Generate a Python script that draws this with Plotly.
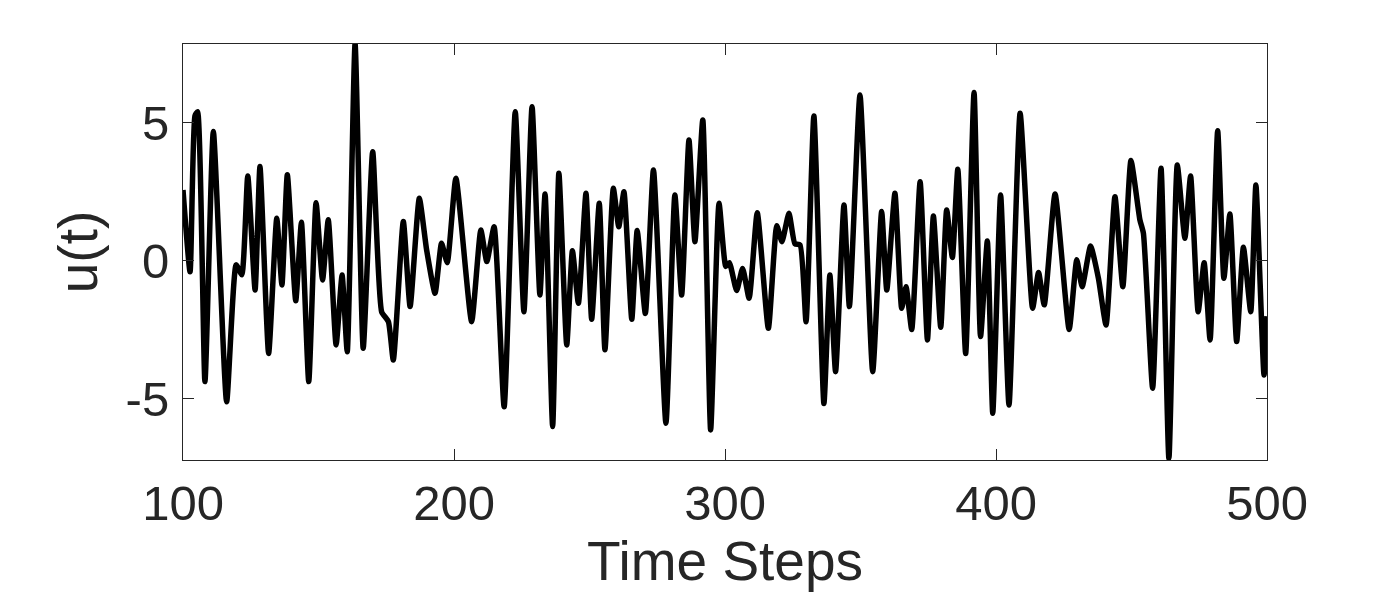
import plotly.graph_objects as go

# vertices of the signal (time step, u)
t = [100, 102.6, 104.4, 105.4, 108.1, 111.2, 116.1, 119.6, 121.7, 123.9, 126.6,
     128.4, 131.6, 134.6, 136.5, 138.5, 141.6, 143.7, 146.4, 149.1, 151.5,
     153.6, 156.5, 158.7, 160.6, 163.5, 166.5, 170.0, 173.3, 175.8, 177.6,
     181.3, 183.8, 187.2, 189.9, 193.0, 195.4, 197.5, 200.7, 206.5, 209.9,
     212.1, 214.8, 218.5, 222.6, 225.8, 228.8, 231.7, 233.6, 236.4, 238.7,
     241.6, 243.7, 245.9, 248.7, 250.8, 253.6, 255.7, 258.8, 260.8, 262.7,
     265.6, 267.6, 270.6, 273.6, 278.2, 281.5, 284.0, 286.7, 288.9, 291.8,
     294.7, 297.8, 300.3, 301.6, 304.3, 306.5, 308.9, 311.9, 316.0, 319.1,
     321.0, 323.6, 325.8, 327.7, 329.9, 332.8, 336.5, 338.7, 340.8, 343.9,
     345.9, 349.8, 354.5, 357.8, 359.7, 362.7, 365.2, 366.8, 368.9, 372.0,
     374.7, 376.9, 379.6, 381.8, 383.9, 385.9, 388.8, 391.9, 394.3, 396.8,
     398.8, 401.7, 404.8, 408.9, 413.5, 415.7, 417.8, 421.8, 427.0, 429.8,
     431.8, 434.9, 437.8, 440.6, 443.9, 446.8, 449.8, 453.1, 454.4, 457.8,
     460.9, 463.8, 466.9, 469.7, 471.8, 474.6, 476.8, 479.0, 481.8, 484.1,
     486.3, 488.8, 491.3, 494.0, 495.9, 498.9, 500]
u = [2.57, -0.39, 5.25, 5.41, -4.37, 4.69, -5.10, -0.14, -0.50, 3.08, -1.05,
     3.42, -3.35, 1.55, -0.87, 3.12, -1.44, 1.40, -4.37, 2.11, -0.69,
     1.49, -3.04, -0.51, -3.29, 7.86, -3.16, 3.96, -1.84, -2.20, -3.59,
     1.43, -1.65, 2.27, 0.40, -1.17, 0.64, -0.06, 3.00, -2.20, 1.12,
     -0.02, 1.24, -5.28, 5.41, -1.84, 5.59, -1.23, 2.43, -6.00, 3.18,
     -3.04, 0.37, -1.53, 2.45, -2.11, 2.09, -3.22, 2.63, 1.24, 2.51,
     -2.11, 1.10, -1.90, 3.30, -5.88, 2.39, -1.23, 4.38, 0.70, 5.11,
     -6.12, 2.09, -0.20, -0.06, -1.07, -0.27, -1.35, 1.75, -2.44, 1.28,
     0.70, 1.73, 0.62, 0.58, -2.20, 5.25, -5.16, -0.51, -4.01, 2.03,
     -1.65, 6.01, -4.01, 1.79, -1.05, 2.45, -1.71, -0.93, -2.48, 2.87,
     -2.86, 1.63, -2.40, 1.85, 0.13, 3.32, -3.35, 6.10, -2.74, 0.72,
     -5.52, 2.39, -5.22, 5.35, -1.71, -0.42, -1.59, 2.43, -2.48, 0.04,
     -0.93, 0.54, -0.63, -2.32, 2.33, -0.93, 3.64, 1.49, 1.00, -4.61,
     3.36, -7.15, 3.48, 0.82, 3.08, -1.84, -0.06, -2.86, 4.72, -0.63,
     1.70, -2.92, 0.50, -1.84, 2.75, -4.13, -2.00]

x_ticks = [100, 200, 300, 400, 500]
y_ticks = [-5, 0, 5]
y_labels = ["-5", "0", "5"]

axcol = "#262626"
font = "Liberation Sans, Arial, Helvetica, sans-serif"

fig = go.Figure()
fig.add_trace(go.Scatter(x=t, y=u, mode="lines",
                         line=dict(color="black", width=5.5, shape="spline", smoothing=0.5)))

# page body adds an 8px offset, so margins are trimmed by that much
fig.update_layout(
    width=1400, height=600,
    margin=dict(l=175, r=141, t=36, b=148),
    paper_bgcolor="white", plot_bgcolor="white",
    showlegend=False,
    font=dict(family=font, color=axcol),
    xaxis=dict(range=[100, 500], tickvals=x_ticks, ticks="inside", ticklen=11,
               tickcolor=axcol, showline=True, linecolor=axcol, linewidth=1,
               mirror="ticks", showgrid=False, zeroline=False,
               tickfont=dict(size=49, color=axcol),
               title=dict(text="Time Steps", font=dict(size=55, color=axcol), standoff=12)),
    yaxis=dict(range=[-7.21, 7.86], tickvals=y_ticks, ticktext=y_labels,
               ticks="inside", ticklen=11, ticklabelstandoff=3,
               tickcolor=axcol, showline=True, linecolor=axcol, linewidth=1,
               mirror="ticks", showgrid=False, zeroline=False,
               tickfont=dict(size=49, color=axcol),
               title=dict(text="u(t)", font=dict(size=55, color=axcol), standoff=10)),
)

fig.write_html("out.html")
